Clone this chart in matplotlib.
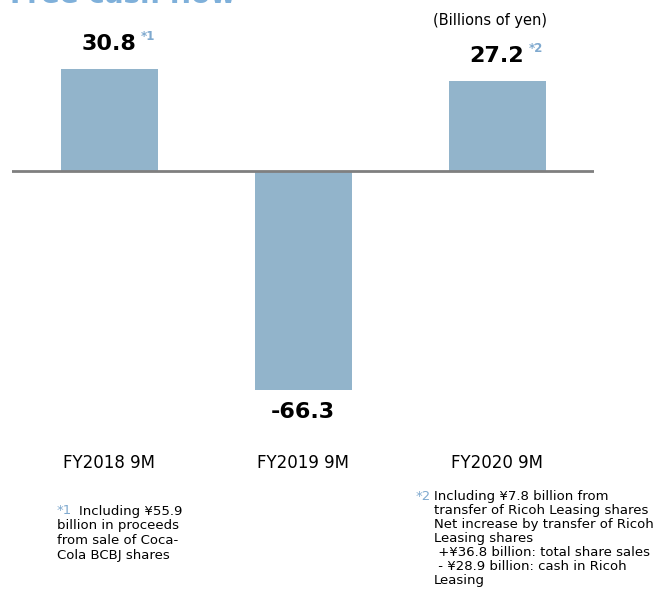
import matplotlib
matplotlib.use("Agg")
import matplotlib.pyplot as plt

categories = ["FY2018 9M", "FY2019 9M", "FY2020 9M"]
values = [30.8, -66.3, 27.2]
value_labels = ["30.8", "-66.3", "27.2"]
note_marks = ["*1", "", "*2"]
title = "Free cash flow"
unit = "(Billions of yen)"
note1_first = "Including ¥55.9"
note1_rest = "billion in proceeds\nfrom sale of Coca-\nCola BCBJ shares"
note2 = ("Including ¥7.8 billion from\ntransfer of Ricoh Leasing shares\n"
         "Net increase by transfer of Ricoh\nLeasing shares\n"
         " +¥36.8 billion: total share sales\n - ¥28.9 billion: cash in Ricoh\nLeasing")

W, H = 655, 592
BAR = "#92b4cb"
MARK = "#7fa9cf"
plt.rcParams['font.family'] = ['DejaVu Sans']

fig = plt.figure(figsize=(W / 100, H / 100), dpi=100)

def fx(x):
    return x / W

def fy(y):
    return 1 - y / H

# axes: x from 12 to 594 px, y from ~19 to ~428 px
ylo, yhi = -78, 46
pxu = 3.3
ax = fig.add_axes([fx(12), fy(171 - ylo * pxu), (594 - 12) / W, (yhi - ylo) * pxu / H])
ax.set_xlim(-0.5, 2.5)
ax.set_ylim(ylo, yhi)
ax.axis("off")

xs = range(len(categories))
ax.bar(xs, values, width=0.5, color=BAR, zorder=2)
ax.axhline(0, color="#7f7f7f", lw=2, zorder=3)

for x, v, lab, mk in zip(xs, values, value_labels, note_marks):
    if v >= 0:
        ax.annotate(lab, (x, v), xytext=(0, 11), textcoords="offset points",
                    ha="center", va="bottom", fontsize=16, fontweight="bold")
    else:
        ax.annotate(lab, (x, v), xytext=(0, -9), textcoords="offset points",
                    ha="center", va="top", fontsize=16, fontweight="bold")
    if mk:
        ax.annotate(mk, (x, v), xytext=(23, 19), textcoords="offset points",
                    ha="left", va="bottom", fontsize=8.5, fontweight="bold", color=MARK)
    ax.annotate(categories[x], (x, ylo), xytext=(0, -25), textcoords="offset points",
                ha="center", va="center", fontsize=12)

fig.text(fx(490), fy(20), unit, ha="center", va="center", fontsize=10.5)
fig.text(fx(10), fy(3), title, ha="left", va="baseline", fontsize=20,
         fontweight="bold", color="#7fb0da")

# footnote 1
fig.text(fx(57), fy(511), note_marks[0], ha="left", va="center", fontsize=9.5, color=MARK)
fig.text(fx(79), fy(511), note1_first, ha="left", va="center", fontsize=9.5)
fig.text(fx(57), fy(519), note1_rest, ha="left", va="top", fontsize=9.5, linespacing=1.2)

# footnote 2
fig.text(fx(416), fy(496), note_marks[2], ha="left", va="center", fontsize=9.5, color=MARK)
fig.text(fx(434), fy(490), note2, ha="left", va="top", fontsize=9.5, linespacing=1.1)

fig.savefig("out.png", dpi=100)
